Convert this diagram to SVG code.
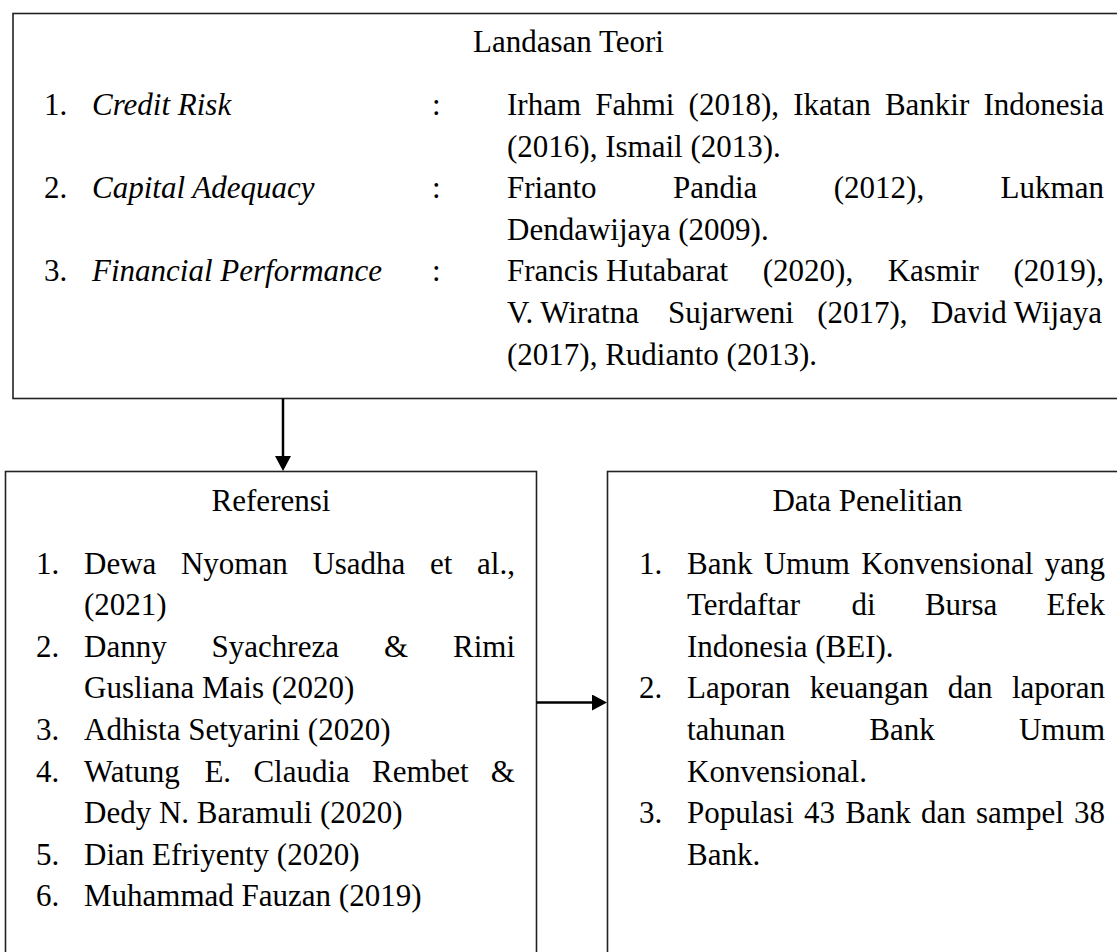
<svg xmlns="http://www.w3.org/2000/svg" width="1117" height="952" viewBox="0 0 1117 952">
<style>
  text { font-family: "Liberation Serif", "Times New Roman", serif; font-size: 31px; fill: #000; }
  .it { font-style: italic; }
  .mid { text-anchor: middle; }
  .box { fill: #fff; stroke: #222; stroke-width: 1.6; }
  .conn { stroke: #000; stroke-width: 2.5; fill: none; }
</style>
<defs>
  <marker id="arrow" markerUnits="userSpaceOnUse" markerWidth="16" markerHeight="16" refX="5" refY="8" orient="auto" viewBox="0 0 16 16">
    <path d="M0,0 L15,8 L0,16 Z" fill="#000"/>
  </marker>
</defs>
<rect width="1117" height="952" fill="#fff"/>

<g id="landasan-teori">
  <rect class="box" x="13" y="13.5" width="1125" height="385"/>
  <text class="mid" x="568.5" y="52">Landasan Teori</text>
  <text x="44" y="115">1.</text><text class="it" x="92" y="115">Credit Risk</text><text x="432" y="115">:</text>
  <text x="44" y="198.2">2.</text><text class="it" x="92" y="198.2">Capital Adequacy</text><text x="432" y="198.2">:</text>
  <text x="44" y="281.4">3.</text><text class="it" x="92" y="281.4">Financial Performance</text><text x="432" y="281.4">:</text>
  <text y="115"><tspan x="507">Irham</tspan><tspan x="595.2">Fahmi</tspan><tspan x="688.6">(2018),</tspan><tspan x="793.2">Ikatan</tspan><tspan x="884.9">Bankir</tspan><tspan x="983.5">Indonesia</tspan></text>
  <text x="507" y="156.6">(2016), Ismail (2013).</text>
  <text y="198.2"><tspan x="507">Frianto</tspan><tspan x="673">Pandia</tspan><tspan x="833.8">(2012),</tspan><tspan x="1000.6">Lukman</tspan></text>
  <text x="507" y="239.8">Dendawijaya (2009).</text>
  <text y="281.4"><tspan x="507">Francis Hutabarat</tspan><tspan x="762.8">(2020),</tspan><tspan x="887.7">Kasmir</tspan><tspan x="1013.5">(2019),</tspan></text>
  <text y="323"><tspan x="507">V. Wiratna</tspan><tspan x="668.1">Sujarweni</tspan><tspan x="817.2">(2017),</tspan><tspan x="930.9">David Wijaya</tspan></text>
  <text x="507" y="364.6">(2017), Rudianto (2013).</text>
</g>

<g id="referensi">
  <rect class="box" x="5.5" y="471.5" width="531" height="500"/>
  <text class="mid" x="271" y="511">Referensi</text>
  <text x="36" y="573.5">1.</text>
  <text y="573.5"><tspan x="84">Dewa</tspan><tspan x="180.95">Nyoman</tspan><tspan x="312.4">Usadha</tspan><tspan x="430.05">et</tspan><tspan x="477.1">al.,</tspan></text>
  <text x="84" y="615.1">(2021)</text>
  <text x="36" y="656.7">2.</text>
  <text y="656.7"><tspan x="84">Danny</tspan><tspan x="211.57">Syachreza</tspan><tspan x="383.94">&amp;</tspan><tspan x="453">Rimi</tspan></text>
  <text x="84" y="698.3">Gusliana Mais (2020)</text>
  <text x="36" y="739.9">3.</text>
  <text x="84" y="739.9">Adhista Setyarini (2020)</text>
  <text x="36" y="781.5">4.</text>
  <text y="781.5"><tspan x="84">Watung</tspan><tspan x="204.4">E.</tspan><tspan x="253.4">Claudia</tspan><tspan x="372.1">Rembet</tspan><tspan x="490.8">&amp;</tspan></text>
  <text x="84" y="823.1">Dedy N. Baramuli (2020)</text>
  <text x="36" y="864.7">5.</text>
  <text x="84" y="864.7">Dian Efriyenty (2020)</text>
  <text x="36" y="906.3">6.</text>
  <text x="84" y="906.3">Muhammad Fauzan (2019)</text>
</g>

<g id="data-penelitian">
  <rect class="box" x="607.5" y="471.5" width="530" height="500"/>
  <text class="mid" x="867.5" y="511">Data Penelitian</text>
  <text x="639" y="573.5">1.</text>
  <text y="573.5"><tspan x="687">Bank</tspan><tspan x="763.73">Umum</tspan><tspan x="861.16">Konvensional</tspan><tspan x="1044.69">yang</tspan></text>
  <text y="615.1"><tspan x="687">Terdaftar</tspan><tspan x="851.57">di</tspan><tspan x="924.94">Bursa</tspan><tspan x="1046.51">Efek</tspan></text>
  <text x="687" y="656.7">Indonesia (BEI).</text>
  <text x="639" y="698.3">2.</text>
  <text y="698.3"><tspan x="687">Laporan</tspan><tspan x="809.67">keuangan</tspan><tspan x="947.84">dan</tspan><tspan x="1012.01">laporan</tspan></text>
  <text y="739.9"><tspan x="687">tahunan</tspan><tspan x="869.3">Bank</tspan><tspan x="1018.9">Umum</tspan></text>
  <text x="687" y="781.5">Konvensional.</text>
  <text x="639" y="823.1">3.</text>
  <text y="823.1"><tspan x="687">Populasi</tspan><tspan x="804.04">43</tspan><tspan x="845.28">Bank</tspan><tspan x="920.92">dan</tspan><tspan x="975.96">sampel</tspan><tspan x="1074">38</tspan></text>
  <text x="687" y="864.7">Bank.</text>
</g>

<g id="connectors">
  <line class="conn" x1="283" y1="398.5" x2="283" y2="461" marker-end="url(#arrow)"/>
  <line class="conn" x1="536.5" y1="702.5" x2="597" y2="702.5" marker-end="url(#arrow)"/>
</g>
</svg>
